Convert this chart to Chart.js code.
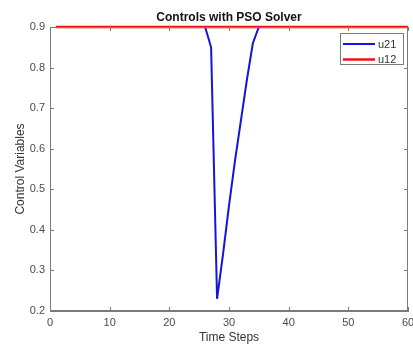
<!DOCTYPE html>
<html>
<head>
<meta charset="utf-8">
<script src="https://cdn.jsdelivr.net/npm/chart.js@4/dist/chart.umd.min.js"></script>
<style>
  html, body { margin: 0; padding: 0; background: #ffffff; }
  #wrap { width: 413px; height: 348px; position: relative; }
</style>
</head>
<body>
<div id="wrap"><canvas id="c" width="413" height="348"></canvas></div>
<script>
// ---- data ----
const timeSteps = [1,2,3,4,5,6,7,8,9,10,11,12,13,14,15,16,17,18,19,20,
  21,22,23,24,25,26,27,28,29,30,31,32,33,34,35,36,37,38,39,40,
  41,42,43,44,45,46,47,48,49,50,51,52,53,54,55,56,57,58,59,60];
const u21 = [0.9,0.9,0.9,0.9,0.9,0.9,0.9,0.9,0.9,0.9,0.9,0.9,0.9,0.9,0.9,0.9,0.9,0.9,0.9,0.9,
  0.9,0.9,0.9,0.9,0.9,0.9,0.85,0.23,0.34,0.46,0.57,0.67,0.77,0.86,0.9,0.9,0.9,0.9,0.9,0.9,
  0.9,0.9,0.9,0.9,0.9,0.9,0.9,0.9,0.9,0.9,0.9,0.9,0.9,0.9,0.9,0.9,0.9,0.9,0.9,0.9];
const u12 = [0.9,0.9,0.9,0.9,0.9,0.9,0.9,0.9,0.9,0.9,0.9,0.9,0.9,0.9,0.9,0.9,0.9,0.9,0.9,0.9,
  0.9,0.9,0.9,0.9,0.9,0.9,0.9,0.9,0.9,0.9,0.9,0.9,0.9,0.9,0.9,0.9,0.9,0.9,0.9,0.9,
  0.9,0.9,0.9,0.9,0.9,0.9,0.9,0.9,0.9,0.9,0.9,0.9,0.9,0.9,0.9,0.9,0.9,0.9,0.9,0.9];
const xTicks = [0,10,20,30,40,50,60];
const yTicks = [0.2,0.3,0.4,0.5,0.6,0.7,0.8,0.9];
const seriesNames = ['u21','u12'];
const chartTitle = 'Controls with PSO Solver';
const xTitle = 'Time Steps';
const yTitle = 'Control Variables';

const BLUE = '#1414dc';
const RED = '#ee1414';
const AXIS = '#7a7a7a';
const TXT = '#4a4a4a';
const FONT = "'Liberation Sans', Arial, sans-serif";

function pts(xs, ys) { return xs.map((x, i) => ({ x: x, y: ys[i] })); }

const frame = {
  id: 'frame',
  afterDatasetsDraw(chart) {
    const { ctx, chartArea: a, scales } = chart;
    ctx.save();
    ctx.strokeStyle = AXIS;
    ctx.lineWidth = 1;
    ctx.strokeRect(Math.round(a.left) + 0.5, Math.round(a.top) + 0.5,
      Math.round(a.right - a.left) - 1, Math.round(a.bottom - a.top) - 1);
    const tl = 4;
    ctx.beginPath();
    xTicks.forEach(v => {
      const px = Math.round(scales.x.getPixelForValue(v)) + 0.5;
      ctx.moveTo(px, a.bottom); ctx.lineTo(px, a.bottom - tl);
      ctx.moveTo(px, a.top); ctx.lineTo(px, a.top + tl);
    });
    yTicks.forEach(v => {
      const py = Math.round(scales.y.getPixelForValue(v)) + 0.5;
      ctx.moveTo(a.left, py); ctx.lineTo(a.left + tl, py);
      ctx.moveTo(a.right, py); ctx.lineTo(a.right - tl, py);
    });
    ctx.stroke();
    ctx.restore();
  },
  afterDraw(chart) {
    const { ctx, chartArea: a } = chart;
    ctx.save();
    // title centred over the plot area (MATLAB style)
    ctx.fillStyle = '#111111';
    ctx.font = 'bold 12px ' + FONT;
    ctx.textAlign = 'center';
    ctx.textBaseline = 'middle';
    ctx.fillText(chartTitle, (a.left + a.right) / 2, 18);
    // legend box (MATLAB style, inside plot at upper right)
    const bx = 340.5, by = 33.5, bw = 63, bh = 31;
    ctx.fillStyle = '#ffffff';
    ctx.fillRect(bx, by, bw, bh);
    ctx.strokeStyle = AXIS;
    ctx.lineWidth = 1;
    ctx.strokeRect(bx, by, bw, bh);
    const ds = chart.data.datasets;
    const rows = [44, 59.5];
    ds.forEach((d, i) => {
      ctx.strokeStyle = d.borderColor;
      ctx.lineWidth = d.borderWidth;
      ctx.beginPath();
      ctx.moveTo(343, rows[i]);
      ctx.lineTo(375, rows[i]);
      ctx.stroke();
      ctx.fillStyle = '#333333';
      ctx.font = '11px ' + FONT;
      ctx.textBaseline = 'middle';
      ctx.textAlign = 'left';
      ctx.fillText(d.label, 378, rows[i] + 0.5);
    });
    ctx.restore();
  }
};

new Chart(document.getElementById('c'), {
  type: 'line',
  data: {
    datasets: [
      { label: seriesNames[0], data: pts(timeSteps, u21), borderColor: BLUE, borderWidth: 2,
        pointRadius: 0, tension: 0, fill: false, clip: 6, order: 2 },
      { label: seriesNames[1], data: pts(timeSteps, u12), borderColor: RED, borderWidth: 2.5,
        pointRadius: 0, tension: 0, fill: false, clip: 6, order: 1 }
    ]
  },
  plugins: [frame],
  options: {
    responsive: false,
    animation: false,
    devicePixelRatio: 1,
    layout: { padding: { left: 0, right: 5, top: 27, bottom: 0 } },
    plugins: {
      legend: { display: false },
      tooltip: { enabled: false },
      title: { display: false }
    },
    scales: {
      x: {
        type: 'linear',
        min: 0, max: 60,
        afterBuildTicks(s) { s.ticks = xTicks.map(v => ({ value: v })); },
        afterFit(s) { s.height = 37; s.paddingLeft = 0; s.paddingRight = 0; },
        grid: { display: false, drawTicks: false },
        border: { display: true, color: AXIS },
        ticks: { color: TXT, font: { family: FONT, size: 11 }, padding: 5, maxRotation: 0, autoSkip: false },
        title: { display: true, text: xTitle, color: '#333333',
          font: { family: FONT, size: 12 }, padding: { top: 0, bottom: 3 } }
      },
      y: {
        type: 'linear',
        min: 0.2, max: 0.9,
        afterBuildTicks(s) { s.ticks = yTicks.map(v => ({ value: v })); },
        afterFit(s) { s.width = 50; s.paddingTop = 0; s.paddingBottom = 0; },
        grid: { display: false, drawTicks: false },
        border: { display: true, color: AXIS },
        ticks: { color: TXT, font: { family: FONT, size: 11 }, padding: 5,
          callback: v => v.toFixed(1) },
        title: { display: true, text: yTitle, color: '#333333',
          font: { family: FONT, size: 12 }, padding: { top: 13, bottom: 0 } }
      }
    }
  }
});
</script>
</body>
</html>
